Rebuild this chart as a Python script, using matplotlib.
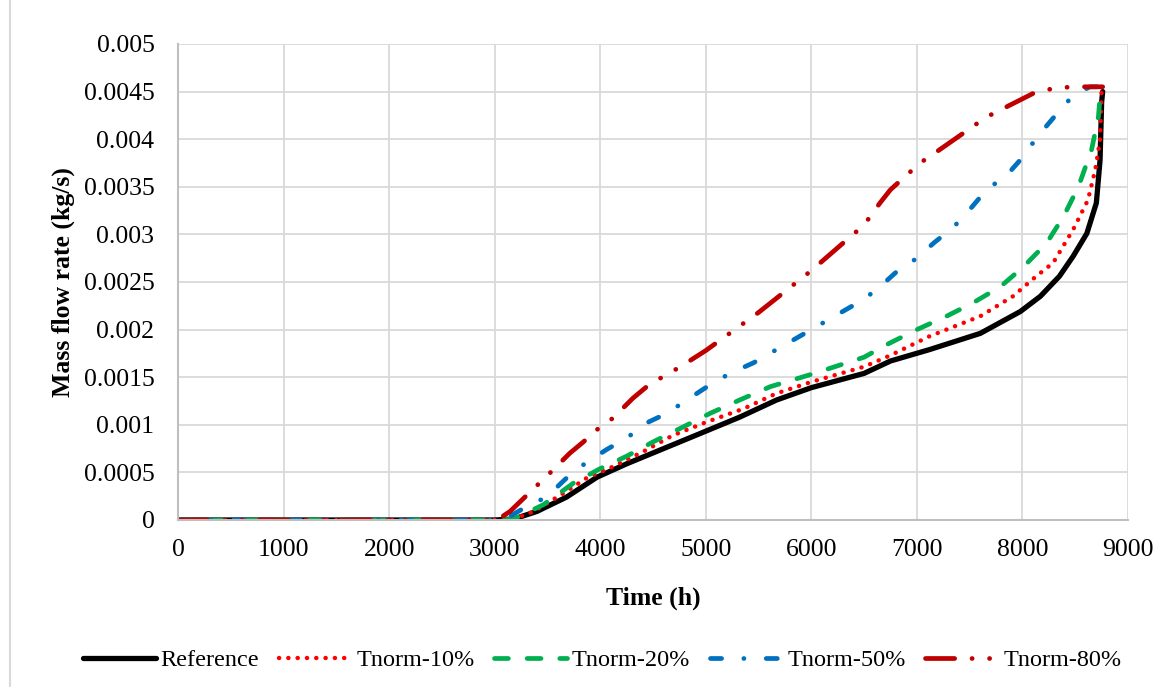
import numpy as np
import matplotlib
matplotlib.use("Agg")
import matplotlib.pyplot as plt
from matplotlib.ticker import MultipleLocator, FuncFormatter
from matplotlib.lines import Line2D

plt.rcParams['font.family'] = ['Liberation Serif', 'DejaVu Serif']
plt.rcParams['lines.scale_dashes'] = False

# hours / mass flow rate (kg/s)
ref_t = [0, 3000, 3180, 3400, 3680, 3970, 4250, 4600, 4950, 5320, 5670, 6000,
         6500, 6750, 7120, 7600, 7980, 8170, 8350, 8480, 8610, 8700, 8735,
         8750, 8760]
ref_m = [0, 0, 0.00001, 0.00009, 0.00024, 0.00045, 0.00059, 0.00075, 0.00091,
         0.00108, 0.00126, 0.00139, 0.00154, 0.00167, 0.00179, 0.00196,
         0.00219, 0.00235, 0.00256, 0.00277, 0.00301, 0.00333, 0.00378,
         0.00439, 0.0045]

t10_t = [0, 3050, 3200, 3370, 3650, 3870, 4120, 4410, 4690, 5010, 5360, 5670,
         6000, 6500, 6750, 7120, 7600, 7910, 8130, 8290, 8480, 8620, 8690,
         8735, 8750, 8760]
t10_m = [0, 0, 0.00002, 0.00009, 0.00028, 0.00044, 0.00056, 0.00072, 0.00089,
         0.00103, 0.00117, 0.00133, 0.00145, 0.00161, 0.00173, 0.00193,
         0.00214, 0.00235, 0.00256, 0.0027, 0.00305, 0.00336, 0.00368,
         0.00399, 0.00452, 0.00453]

t20_t = [0, 3050, 3180, 3460, 3750, 4000, 4250, 4500, 4790, 5040, 5320, 5610,
         6000, 6500, 6710, 7000, 7280, 7530, 7790, 8010, 8230, 8390, 8530,
         8655, 8720, 8740, 8760]
t20_m = [0, 0, 0.00001, 0.00016, 0.00039, 0.00054, 0.00067, 0.00082, 0.00098,
         0.00112, 0.00126, 0.0014, 0.00153, 0.00171, 0.00184, 0.002, 0.00214,
         0.00228, 0.00245, 0.00266, 0.00291, 0.00319, 0.0035, 0.00389,
         0.00424, 0.00452, 0.00453]

t50_t = [0, 3000, 3100, 3300, 3490, 3680, 3840, 4060, 4250, 4440, 4630, 4820,
         5040, 5230, 5450, 6000, 6500, 6650, 6810, 7000, 7160, 7350, 7500,
         7660, 7850, 8010, 8130, 8290, 8480, 8640, 8760]
t50_m = [0, 0, 0.00001, 0.00014, 0.00024, 0.00044, 0.00058, 0.00074, 0.00086,
         0.00102, 0.00112, 0.00126, 0.00142, 0.00154, 0.00165, 0.002, 0.00232,
         0.00245, 0.00261, 0.00275, 0.00291, 0.00308, 0.00326, 0.00347,
         0.00362, 0.00382, 0.00401, 0.00422, 0.00446, 0.00455, 0.00455]

t80_t = [0, 2950, 3050, 3145, 3520, 3710, 3840, 3970, 4120, 4310, 4440, 4600,
         4760, 5000, 5500, 6000, 6500, 6650, 6750, 6900, 7030, 7190, 7410,
         7550, 7690, 7850, 8100, 8280, 8470, 8760]
t80_m = [0, 0, 0.00002, 0.00009, 0.00049, 0.0007, 0.00082, 0.00095, 0.00107,
         0.00128, 0.0014, 0.00151, 0.00161, 0.00178, 0.00218, 0.00262, 0.0031,
         0.00333, 0.00347, 0.00362, 0.00375, 0.00387, 0.00404, 0.00415,
         0.00425, 0.00434, 0.00448, 0.00453, 0.00455, 0.00455]

labels = ["Reference", "Tnorm-10%", "Tnorm-20%", "Tnorm-50%", "Tnorm-80%"]

fig = plt.figure(figsize=(11.76, 6.87), dpi=100)
ax = fig.add_axes([0.1514, 0.2431, 0.8078, 0.6929])

ax.plot(ref_t, ref_m, color="black", lw=3.8, solid_capstyle="round",
        label=labels[0])
ax.plot(t10_t, t10_m, color="#FF0000", lw=3.2, dashes=(0.1, 6.6),
        dash_capstyle="round", label=labels[1])
ax.plot(t20_t, t20_m, color="#00B050", lw=3.4, dashes=(10, 13.5),
        dash_capstyle="round", label=labels[2])
ax.plot(t50_t, t50_m, color="#0070C0", lw=3.4, dashes=(8, 16, 0.1, 16),
        dash_capstyle="round", label=labels[3])
ax.plot(t80_t, t80_m, color="#C00000", lw=3.4,
        dashes=(21, 12.5, 0.1, 12.5, 0.1, 12.5),
        dash_capstyle="round", label=labels[4])

ax.set_xlim(0, 9000)
ax.set_ylim(0, 0.005)
ax.xaxis.set_major_locator(MultipleLocator(1000))
ax.yaxis.set_major_locator(MultipleLocator(0.0005))
ax.yaxis.set_major_formatter(FuncFormatter(lambda v, p: "{:g}".format(round(v, 6))))
ax.tick_params(length=0, labelsize=18.5)
ax.tick_params(axis="x", pad=14)
ax.tick_params(axis="y", pad=17)
ax.grid(True, color="#D9D9D9", lw=1.3)
ax.set_axisbelow(True)
for s in ["top", "right"]:
    ax.spines[s].set_visible(False)
for s in ["left", "bottom"]:
    ax.spines[s].set_color("#BFBFBF")
    ax.spines[s].set_linewidth(1.5)

ax.set_xlabel("Time (h)", fontsize=18.5, fontweight="bold", labelpad=18)
ax.set_ylabel("Mass flow rate (kg/s)", fontsize=18.5, fontweight="bold",
              labelpad=6)

fig.legend(loc="center", bbox_to_anchor=(0.512, 0.039), ncol=5,
           frameon=False, fontsize=17.5, handlelength=3.0,
           handletextpad=0.2, columnspacing=0.8)

fig.add_artist(Line2D([10 / 1176, 10 / 1176], [0, 1], color="#D9D9D9",
                      lw=1.5, transform=fig.transFigure))

fig.savefig("out.png", dpi=100)
